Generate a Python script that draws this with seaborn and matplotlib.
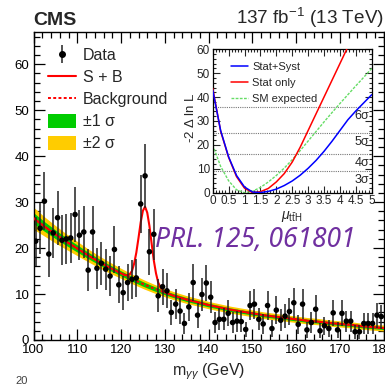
import numpy as np
import pandas as pd
import matplotlib
matplotlib.use("Agg")
import matplotlib.pyplot as plt
import seaborn as sns
from matplotlib.lines import Line2D
from matplotlib.patches import Patch
from matplotlib.ticker import MultipleLocator

# ---------------- data ----------------
mass = [100.5 + i for i in range(80)]
events = [21.5, 24.3, 30.2, 18.7, 23.3, 26.6, 21.7, 22.0, 22.2, 27.3,
          22.8, 23.5, 15.2, 23.5, 15.6, 16.7, 15.4, 13.9, 19.7, 12.0,
          10.3, 12.5, 13.2, 13.5, 29.6, 35.7, 19.2, 23.0, 9.6, 11.6,
          10.7, 6.0, 7.8, 6.3, 3.6, 7.2, 12.5, 5.4, 9.9, 12.4,
          9.3, 3.8, 4.5, 4.5, 5.8, 3.8, 4.1, 4.0, 2.3, 7.5,
          7.8, 4.5, 3.5, 7.5, 2.5, 6.5, 4.3, 5.2, 6.2, 8.1,
          3.4, 7.8, 2.2, 3.8, 6.7, 2.0, 3.1, 2.5, 5.9, 2.2,
          5.8, 4.1, 4.1, 1.8, 1.8, 3.6, 3.6, 3.6, 5.4, 5.1]
errors = [5.3, 5.6, 6.3, 5.0, 5.5, 5.9, 5.4, 5.4, 5.4, 6.0,
          5.5, 5.6, 4.5, 5.6, 4.5, 4.7, 4.5, 4.3, 5.1, 4.0,
          3.7, 4.1, 4.2, 4.2, 6.3, 6.9, 5.0, 5.5, 3.6, 3.9,
          3.8, 2.8, 3.2, 2.9, 2.2, 3.1, 4.1, 2.7, 3.6, 4.0,
          3.5, 2.2, 2.4, 2.4, 2.8, 2.2, 2.3, 2.3, 1.7, 3.1,
          3.2, 2.4, 2.2, 3.1, 1.8, 3.0, 2.4, 2.6, 2.9, 3.3,
          2.1, 3.2, 1.7, 2.2, 3.0, 1.6, 2.0, 1.8, 2.8, 1.7,
          2.8, 2.3, 2.3, 1.5, 1.5, 2.2, 2.2, 2.2, 2.7, 2.6]

bkg_mass = [100 + 2.5 * i for i in range(33)]
bkg = [26.5, 24.7, 23.0, 21.4, 19.9, 18.4, 17.0, 15.7, 14.5, 13.3,
       12.2, 11.2, 10.3, 9.5, 8.8, 8.2, 7.6, 7.1, 6.6, 6.2,
       5.8, 5.4, 5.1, 4.8, 4.5, 4.2, 4.0, 3.7, 3.5, 3.3,
       3.0, 2.8, 2.6]
band1 = [1.2, 1.05, 0.95, 0.85, 0.78, 0.7, 0.65, 0.6, 0.55, 0.52,
         0.5, 0.48, 0.45, 0.44, 0.43, 0.41, 0.4, 0.39, 0.38, 0.37,
         0.37, 0.36, 0.36, 0.35, 0.35, 0.35, 0.34, 0.34, 0.34, 0.33,
         0.33, 0.33, 0.33]
band2 = [2.4, 2.1, 1.9, 1.7, 1.55, 1.4, 1.3, 1.2, 1.1, 1.05,
         1.0, 0.95, 0.9, 0.88, 0.85, 0.82, 0.8, 0.78, 0.76, 0.75,
         0.74, 0.73, 0.72, 0.71, 0.7, 0.7, 0.69, 0.68, 0.67, 0.67,
         0.66, 0.66, 0.65]

sb_mass = [119.0 + 0.5 * i for i in range(27)]
sb_peak = [15.0, 14.7, 14.5, 14.3, 14.1, 14.1, 14.3, 15.0, 16.6, 19.0,
           22.2, 25.6, 28.1, 29.0, 27.7, 24.8, 21.0, 17.3, 14.5, 12.5,
           11.5, 10.8, 10.4, 10.15, 10.0, 9.8, 9.6]

mu = [0.25 * i for i in range(21)]
nll_stat_syst = [43.0, 26.0, 15.0, 7.2, 2.4, 0.3, 0.06, 0.55, 1.5, 3.0,
                 4.9, 7.3, 10.2, 13.5, 17.3, 21.5, 26.0, 30.5, 34.2, 37.6, 41.0]
nll_stat_only = [43.7, 25.7, 14.8, 6.7, 1.9, 0.05, 0.4, 1.8, 4.5, 8.0,
                 12.8, 19.0, 26.0, 33.0, 40.0, 47.0, 54.0, 61.0, 68.0, 75.0, 82.0]
nll_sm_exp = [20.0, 11.0, 5.0, 1.2, 0.0, 0.6, 2.2, 4.5, 7.2, 10.3,
              13.8, 17.6, 21.6, 25.6, 29.6, 33.5, 37.3, 41.0, 44.7, 48.3, 52.0]
sigma_levels = [9, 16, 25, 36]
sigma_labels = ["3σ", "4σ", "5σ", "6σ"]

# ---------------- style ----------------
sns.set_theme(style="ticks")
plt.rcParams["font.family"] = ["Liberation Sans", "DejaVu Sans"]
plt.rcParams["mathtext.fontset"] = "custom"
plt.rcParams["mathtext.rm"] = "Liberation Sans"
plt.rcParams["mathtext.it"] = "Liberation Sans:italic"
plt.rcParams["mathtext.sf"] = "Liberation Sans"

fig = plt.figure(figsize=(3.85, 3.9), dpi=100)
fig.patch.set_facecolor("white")

W, H = 385.0, 390.0
ax = fig.add_axes([33.5 / W, 50 / H, 350 / W, 308 / H])
ax.set_facecolor("white")

bkg_arr = np.array(bkg)
b1 = np.array(band1)
b2 = np.array(band2)
ax.fill_between(bkg_mass, bkg_arr - b2, bkg_arr + b2, color="#FFCC00", lw=0, zorder=1)
ax.fill_between(bkg_mass, bkg_arr - b1, bkg_arr + b1, color="#00CC00", lw=0, zorder=2)

sns.lineplot(x=bkg_mass, y=bkg, ax=ax, color="#FF0000", lw=1.4,
             linestyle=(0, (1.5, 1.2)), estimator=None, sort=False, zorder=3)

sb_x = [m for m in bkg_mass if m < 119] + sb_mass + [m for m in bkg_mass if m > 132]
sb_y = [b for m, b in zip(bkg_mass, bkg) if m < 119] + sb_peak + \
       [b for m, b in zip(bkg_mass, bkg) if m > 132]
sns.lineplot(x=sb_x, y=sb_y, ax=ax, color="#FF0000", lw=1.5,
             estimator=None, sort=False, zorder=4)

ax.errorbar(mass, events, yerr=errors, fmt="none", ecolor="#222222",
            elinewidth=1.1, capsize=0, zorder=5)
sns.scatterplot(x=mass, y=events, ax=ax, color="black", s=16, edgecolor="none",
                zorder=6)

ax.set_xlim(100, 180)
ax.set_ylim(0, 67)
ax.xaxis.set_major_locator(MultipleLocator(10))
ax.xaxis.set_minor_locator(MultipleLocator(2))
ax.yaxis.set_major_locator(MultipleLocator(10))
ax.yaxis.set_minor_locator(MultipleLocator(2))
ax.tick_params(which="both", direction="in", top=True, right=True,
               labelsize=9.5, colors="black", width=0.9, pad=3)
ax.tick_params(which="major", length=8)
ax.tick_params(which="minor", length=4)
for s in ax.spines.values():
    s.set_linewidth(1.0)
    s.set_color("black")
ax.set_xlabel(r"$\mathrm{m}_{\gamma\gamma}$ (GeV)", fontsize=11.5, labelpad=4)
ax.set_ylabel("")

# legend
h_data = (Line2D([0], [0], color="#222222", marker="|", markersize=13, lw=0,
                 markeredgewidth=1.1),
          Line2D([0], [0], color="black", marker="o", markersize=4, lw=0))
handles = [h_data,
           Line2D([0], [0], color="#FF0000", lw=1.5),
           Line2D([0], [0], color="#FF0000", lw=1.4, linestyle=(0, (1.5, 1.2))),
           Patch(facecolor="#00CC00", edgecolor="none"),
           Patch(facecolor="#FFCC00", edgecolor="none")]
labels = ["Data", "S + B", "Background", "±1 σ", "±2 σ"]
ax.legend(handles, labels, loc="upper left", bbox_to_anchor=(40 / W, 1 - 39.5 / H),
          bbox_transform=fig.transFigure, frameon=False, fontsize=11.5,
          handlelength=1.75, handleheight=0.95, handletextpad=0.45,
          labelspacing=0.42, borderpad=0)

fig.text(33 / W, 1 - 25 / H, "CMS", fontsize=14, fontweight="bold", ha="left",
         va="baseline")
fig.text(383.5 / W, 1 - 24 / H, r"137 fb$^{-1}$ (13 TeV)", fontsize=13.6, ha="right",
         va="baseline")
fig.text(155 / W, 1 - 247 / H, "PRL. 125, 061801", fontsize=19, style="italic",
         color="#7030A0", ha="left", va="baseline", family=["Noto Sans", "DejaVu Sans"])
fig.text(15 / W, 1 - 384 / H, "20", fontsize=8, color="#404040", ha="left",
         va="baseline")

# ---------------- inset ----------------
axi = fig.add_axes([212.7 / W, (H - 192.7) / H, 159 / W, 143.4 / H])
axi.set_facecolor("white")
for lv in sigma_levels:
    axi.axhline(lv, color="#777777", lw=0.8, linestyle=(0, (1, 1)), zorder=1)
sns.lineplot(x=mu, y=nll_sm_exp, ax=axi, color="#66DD66", lw=1.0,
             linestyle=(0, (2, 1)), estimator=None, sort=False, zorder=2,
             label="SM expected")
sns.lineplot(x=mu, y=nll_stat_only, ax=axi, color="#FF0000", lw=1.1,
             estimator=None, sort=False, zorder=3, label="Stat only")
sns.lineplot(x=mu, y=nll_stat_syst, ax=axi, color="#0000FF", lw=1.1,
             estimator=None, sort=False, zorder=4, label="Stat+Syst")
hh, ll = axi.get_legend_handles_labels()
order = [2, 1, 0]
axi.legend([hh[i] for i in order], [ll[i] for i in order], loc="upper left",
           bbox_to_anchor=(225 / W, 1 - 56 / H), bbox_transform=fig.transFigure,
           frameon=False, fontsize=8, handlelength=1.6, handletextpad=0.35,
           labelspacing=0.55, borderpad=0)
for lv, lab in zip(sigma_levels, sigma_labels):
    axi.text(4.92, lv - 1.2, lab, ha="right", va="top", fontsize=9)
axi.set_xlim(0, 5)
axi.set_ylim(0, 60)
axi.xaxis.set_major_locator(MultipleLocator(0.5))
axi.xaxis.set_minor_locator(MultipleLocator(0.1))
axi.yaxis.set_major_locator(MultipleLocator(10))
axi.yaxis.set_minor_locator(MultipleLocator(2))
axi.set_xticks([0, 0.5, 1, 1.5, 2, 2.5, 3, 3.5, 4, 4.5, 5])
axi.set_xticklabels(["0", "0.5", "1", "1.5", "2", "2.5", "3", "3.5", "4", "4.5", "5"])
axi.tick_params(which="both", direction="in", top=True, right=True,
                labelsize=8.5, width=0.8, pad=2)
axi.tick_params(which="major", length=5)
axi.tick_params(which="minor", length=2.5)
for s in axi.spines.values():
    s.set_linewidth(0.9)
    s.set_color("black")
axi.set_xlabel(r"$\mu_{\mathrm{t\bar{t}H}}$", fontsize=10, labelpad=1)
axi.set_ylabel("")
fig.text(190.5 / W, 1 - 118 / H, r"-2 $\Delta$ ln L", rotation=90, fontsize=9.5,
         ha="center", va="center")

fig.savefig("out.png", dpi=100, facecolor="white")
